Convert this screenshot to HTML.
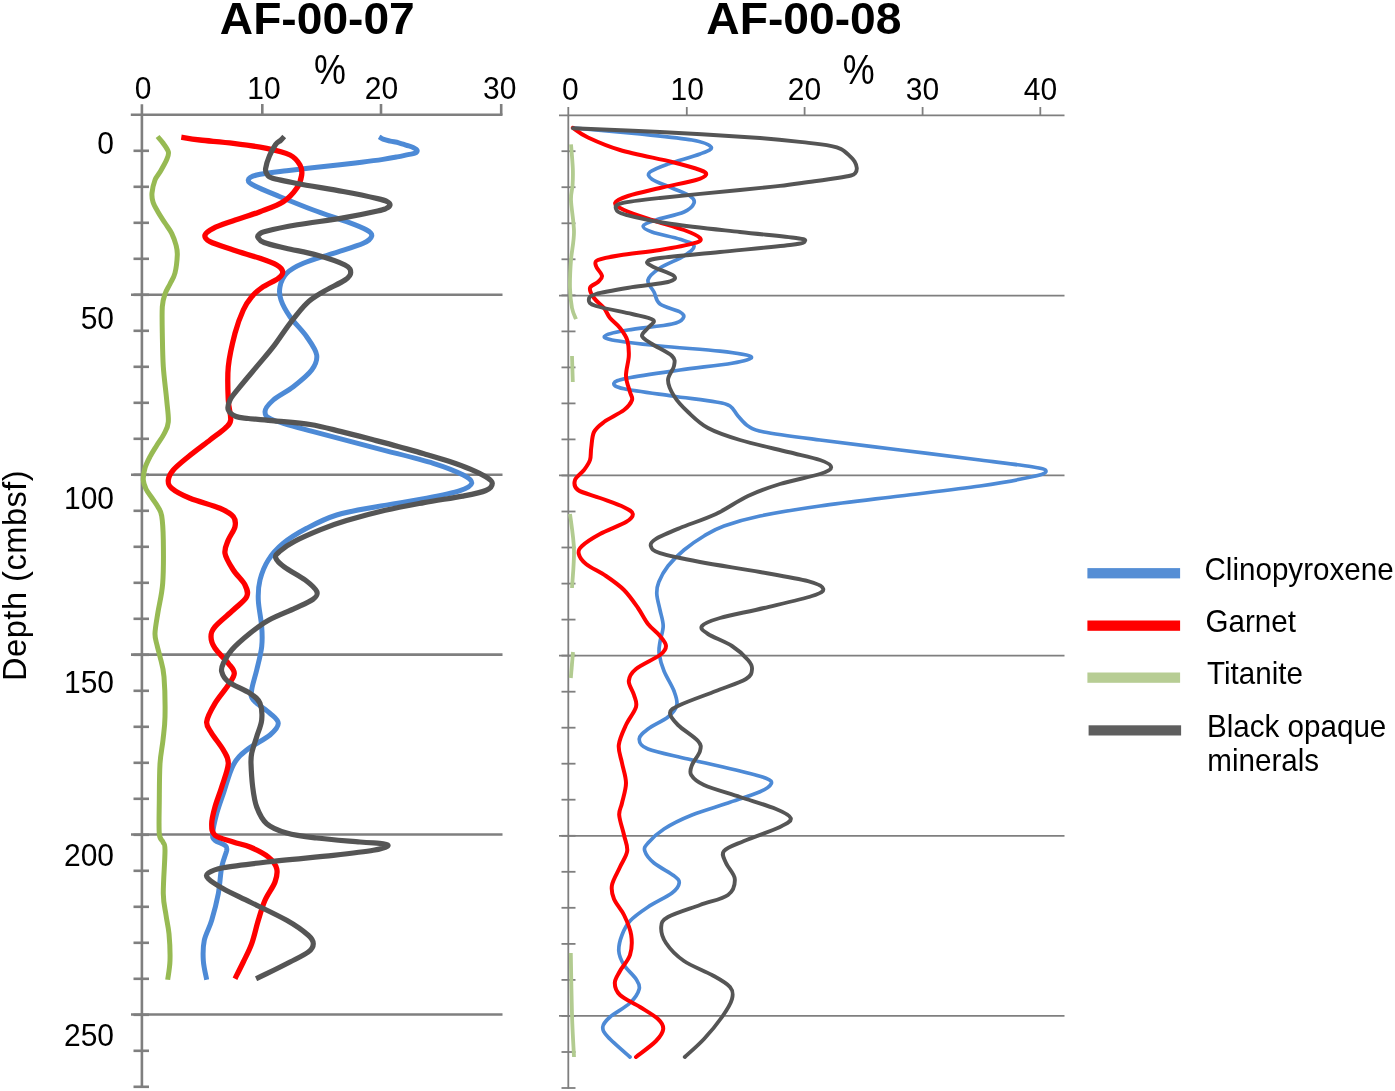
<!DOCTYPE html>
<html lang="en">
<head>
<meta charset="utf-8">
<title>AF-00-07 / AF-00-08 heavy minerals</title>
<style>
html,body{margin:0;padding:0;background:#fff;}
body{width:1395px;height:1091px;overflow:hidden;}
svg{display:block;filter:blur(0.5px);}
text{font-family:"Liberation Sans",Arial,sans-serif;fill:#000;}
.t{font-weight:bold;font-size:43.8px;}
.n{font-size:30px;}
.p{font-size:37px;}
.lg{font-size:29.6px;}
.d{font-size:32.5px;}
.c{fill:none;stroke-linejoin:round;}
</style>
</head>
<body>
<svg width="1395" height="1091" viewBox="0 0 1395 1091">
<rect width="1395" height="1091" fill="#fff"/>

<g stroke="#7f7f7f" stroke-width="2.6" fill="none">
<path d="M141.9 104.2V1088"/>
<path d="M130.8 114.8H502.5"/>
<path d="M262.3 104V114.8"/>
<path d="M381.0 104V114.8"/>
<path d="M501.2 104V114.8"/>
<path d="M131 294.8H502.5"/>
<path d="M131 474.8H502.5"/>
<path d="M131 654.6H502.5"/>
<path d="M131 834.5H502.5"/>
<path d="M131 1014.5H502.5"/>
<path d="M133.5 150.8H149"/>
<path d="M133.5 186.8H149"/>
<path d="M133.5 222.8H149"/>
<path d="M133.5 258.8H149"/>
<path d="M133.5 294.8H149"/>
<path d="M133.5 330.8H149"/>
<path d="M133.5 366.8H149"/>
<path d="M133.5 402.8H149"/>
<path d="M133.5 438.8H149"/>
<path d="M133.5 474.8H149"/>
<path d="M133.5 510.8H149"/>
<path d="M133.5 546.8H149"/>
<path d="M133.5 582.8H149"/>
<path d="M133.5 618.8H149"/>
<path d="M133.5 654.8H149"/>
<path d="M133.5 690.8H149"/>
<path d="M133.5 726.8H149"/>
<path d="M133.5 762.8H149"/>
<path d="M133.5 798.8H149"/>
<path d="M133.5 834.8H149"/>
<path d="M133.5 870.8H149"/>
<path d="M133.5 906.8H149"/>
<path d="M133.5 942.8H149"/>
<path d="M133.5 978.8H149"/>
<path d="M133.5 1014.8H149"/>
<path d="M133.5 1050.8H149"/>
<path d="M133.5 1086.8H149"/>
</g>
<g stroke="#7f7f7f" stroke-width="1.8" fill="none">
<path d="M568.3 107V1088.8"/>
<path d="M559 115.3H1064.5"/>
<path d="M686.8 107V115.3"/>
<path d="M804.6 107V115.3"/>
<path d="M922.6 107V115.3"/>
<path d="M1040.3 107V115.3"/>
<path d="M559 295.6H1064.5"/>
<path d="M559 475.4H1064.5"/>
<path d="M559 655.6H1064.5"/>
<path d="M559 835.8H1064.5"/>
<path d="M559 1015.8H1064.5"/>
<path d="M561.5 151.2H575.5"/>
<path d="M561.5 187.2H575.5"/>
<path d="M561.5 223.3H575.5"/>
<path d="M561.5 259.3H575.5"/>
<path d="M561.5 295.3H575.5"/>
<path d="M561.5 331.4H575.5"/>
<path d="M561.5 367.4H575.5"/>
<path d="M561.5 403.4H575.5"/>
<path d="M561.5 439.4H575.5"/>
<path d="M561.5 475.5H575.5"/>
<path d="M561.5 511.5H575.5"/>
<path d="M561.5 547.5H575.5"/>
<path d="M561.5 583.6H575.5"/>
<path d="M561.5 619.6H575.5"/>
<path d="M561.5 655.6H575.5"/>
<path d="M561.5 691.7H575.5"/>
<path d="M561.5 727.7H575.5"/>
<path d="M561.5 763.7H575.5"/>
<path d="M561.5 799.7H575.5"/>
<path d="M561.5 835.8H575.5"/>
<path d="M561.5 871.8H575.5"/>
<path d="M561.5 907.8H575.5"/>
<path d="M561.5 943.9H575.5"/>
<path d="M561.5 979.9H575.5"/>
<path d="M561.5 1015.9H575.5"/>
<path d="M561.5 1052.0H575.5"/>
<path d="M561.5 1088.0H575.5"/>
</g>
<path class="c" stroke="#97ba53" stroke-width="5.0" stroke-linecap="butt" d="M157.6 136.5C158.5 137.6 161.2 140.4 163.0 143.0C164.8 145.6 167.8 149.2 168.4 152.0C169.0 154.8 167.9 156.7 166.5 160.0C165.1 163.3 161.9 168.7 160.0 172.0C158.1 175.3 156.3 176.5 155.0 180.0C153.7 183.5 152.3 189.3 152.0 193.0C151.7 196.7 152.0 198.8 153.0 202.0C154.0 205.2 156.0 208.5 158.0 212.0C160.0 215.5 162.7 219.4 165.0 223.0C167.3 226.6 169.9 229.6 171.7 233.3C173.5 237.0 175.1 241.4 176.0 245.0C176.9 248.6 177.5 250.3 177.3 255.0C177.1 259.7 176.2 268.2 175.0 273.0C173.8 277.8 171.7 280.5 170.0 284.0C168.3 287.5 166.3 290.2 165.0 294.0C163.7 297.8 162.8 300.1 162.3 306.7C161.9 313.2 162.1 323.3 162.3 333.3C162.5 343.3 162.6 355.6 163.3 366.7C164.0 377.8 165.9 390.8 166.7 400.0C167.5 409.2 168.8 416.3 168.3 422.0C167.9 427.7 165.9 430.2 164.0 434.0C162.1 437.8 159.3 441.2 157.0 445.0C154.7 448.8 152.0 452.9 150.0 456.7C148.0 460.5 146.1 464.1 145.0 468.0C143.9 471.9 143.1 476.5 143.3 480.0C143.5 483.5 144.6 486.0 146.0 489.0C147.4 492.0 150.0 495.0 152.0 498.0C154.0 501.0 156.4 504.0 158.0 507.0C159.6 510.0 160.8 510.5 161.7 516.0C162.6 521.5 163.1 528.8 163.3 540.0C163.5 551.2 163.6 571.3 162.7 583.3C161.8 595.3 159.3 603.7 158.0 612.0C156.7 620.3 155.2 627.8 155.0 633.3C154.8 638.8 156.2 641.1 157.0 645.0C157.8 648.9 158.8 651.4 160.0 656.7C161.2 662.0 163.2 666.7 164.0 676.7C164.8 686.7 165.2 706.2 165.0 716.7C164.8 727.2 163.8 732.2 163.0 740.0C162.2 747.8 160.6 753.7 160.0 763.7C159.4 773.7 159.4 788.3 159.3 800.0C159.2 811.7 158.7 826.7 159.3 833.7C159.9 840.7 162.1 839.2 163.0 842.0C163.9 844.8 164.9 841.7 165.0 850.3C165.1 858.9 163.1 882.9 163.3 893.7C163.5 904.5 165.1 908.3 166.0 915.0C166.9 921.7 168.3 926.2 169.0 933.7C169.7 941.2 170.2 952.6 170.0 960.3C169.8 968.0 168.1 976.5 167.7 979.7"/>
<path class="c" stroke="#4d8ad6" stroke-width="5.0" stroke-linecap="butt" d="M379.1 136.8C379.8 137.2 381.1 138.5 383.0 139.2C384.9 139.9 387.6 140.5 390.2 141.1C392.8 141.7 396.2 142.1 398.8 142.8C401.4 143.5 403.5 144.3 405.9 145.1C408.3 145.9 411.2 146.5 413.1 147.4C415.0 148.3 416.9 149.3 417.1 150.3C417.4 151.3 416.1 152.6 414.6 153.3C413.1 154.0 411.0 154.0 408.1 154.6C405.2 155.2 401.5 156.1 397.3 156.9C393.1 157.7 389.0 158.5 383.0 159.4C377.0 160.3 368.7 161.4 361.5 162.3C354.3 163.2 352.5 163.4 340.0 164.8C327.5 166.2 300.6 169.0 286.7 170.7C272.8 172.4 263.1 173.4 256.7 175.0C250.3 176.6 248.6 178.2 248.3 180.0C248.0 181.8 249.7 183.2 255.0 186.0C260.3 188.8 270.3 192.7 280.0 196.7C289.7 200.7 302.2 205.8 313.3 210.0C324.4 214.2 337.8 218.4 346.7 221.7C355.6 225.0 362.5 227.6 366.7 230.0C370.9 232.4 372.3 233.8 371.7 236.0C371.1 238.2 369.7 240.4 363.3 243.3C356.9 246.2 343.3 250.0 333.3 253.3C323.3 256.6 311.1 260.0 303.3 263.3C295.5 266.6 290.6 269.4 286.7 273.3C282.8 277.2 280.9 282.2 280.0 286.7C279.1 291.1 279.3 295.0 281.0 300.0C282.7 305.0 285.7 310.6 290.0 316.7C294.3 322.8 302.2 330.3 306.7 336.7C311.1 343.1 315.9 349.4 316.7 355.0C317.5 360.6 315.6 364.7 311.7 370.0C307.8 375.3 299.7 381.7 293.3 386.7C286.9 391.7 278.0 395.8 273.3 400.0C268.6 404.2 265.0 408.4 265.0 411.7C265.0 415.0 265.2 416.7 273.3 420.0C281.4 423.3 296.1 427.0 313.3 431.7C330.5 436.4 356.7 443.0 376.7 448.3C396.7 453.6 418.9 458.9 433.3 463.3C447.7 467.8 456.9 471.7 463.3 475.0C469.7 478.3 472.2 480.7 471.7 483.3C471.1 485.9 467.5 488.2 460.0 490.7C452.5 493.2 440.6 495.6 426.7 498.3C412.8 501.0 391.7 503.9 376.7 506.7C361.7 509.5 348.4 511.4 336.7 515.0C325.0 518.6 315.6 523.6 306.7 528.3C297.8 533.0 289.7 538.0 283.3 543.3C276.9 548.6 272.2 553.9 268.3 560.0C264.4 566.1 261.7 573.3 260.0 580.0C258.3 586.7 258.0 592.2 258.3 600.0C258.6 607.8 261.1 618.9 261.7 626.7C262.3 634.5 262.5 639.5 261.7 646.7C260.9 653.9 258.4 662.8 256.7 670.0C255.0 677.2 252.3 685.0 251.7 690.0C251.1 695.0 250.2 696.1 253.3 700.0C256.4 703.9 265.8 709.4 270.0 713.3C274.2 717.2 278.3 719.7 278.3 723.3C278.3 726.9 275.3 730.5 270.0 735.0C264.7 739.5 252.8 745.0 246.7 750.0C240.6 755.0 237.2 757.7 233.3 765.0C229.4 772.3 226.1 785.6 223.3 793.7C220.5 801.8 218.5 807.0 216.7 813.7C214.9 820.4 213.0 829.3 212.7 833.7C212.4 838.1 212.9 838.4 215.0 840.3C217.1 842.2 223.1 843.6 225.0 845.3C226.9 847.0 227.2 846.7 226.7 850.3C226.1 853.9 223.1 859.8 221.7 867.0C220.3 874.2 220.0 884.8 218.3 893.7C216.6 902.6 214.0 912.5 211.7 920.3C209.4 928.1 205.7 933.6 204.3 940.3C202.9 947.0 202.9 953.7 203.3 960.3C203.7 966.9 206.1 976.5 206.7 979.7"/>
<path class="c" stroke="#ff0000" stroke-width="5.3" stroke-linecap="butt" d="M181.3 137.2C184.4 137.7 191.3 139.0 200.0 140.0C208.7 141.0 222.2 141.9 233.3 143.3C244.4 144.7 257.2 146.4 266.7 148.3C276.1 150.2 284.4 152.2 290.0 155.0C295.6 157.8 298.1 161.7 300.0 165.0C301.9 168.3 302.2 171.1 301.7 175.0C301.1 178.9 299.8 183.9 296.7 188.3C293.6 192.8 289.4 197.8 283.3 201.7C277.2 205.6 268.3 208.5 260.0 211.7C251.7 214.9 241.1 217.9 233.3 220.7C225.5 223.5 218.0 225.9 213.3 228.3C208.6 230.7 205.6 232.8 205.0 235.0C204.4 237.2 205.3 239.2 210.0 241.7C214.7 244.2 225.0 247.2 233.3 250.0C241.6 252.8 252.8 255.8 260.0 258.3C267.2 260.8 272.9 262.8 276.7 265.0C280.5 267.2 282.4 269.5 282.7 271.7C283.0 273.9 281.5 275.8 278.3 278.3C275.1 280.8 267.7 283.6 263.3 286.7C258.9 289.8 255.0 292.8 251.7 296.7C248.4 300.6 246.1 303.9 243.3 310.0C240.5 316.1 237.5 323.9 235.0 333.3C232.5 342.8 229.4 355.6 228.3 366.7C227.2 377.8 227.9 391.1 228.3 400.0C228.7 408.9 231.2 415.3 230.7 420.0C230.1 424.7 228.4 425.0 225.0 428.3C221.6 431.6 216.1 435.3 210.0 440.0C203.9 444.7 194.4 451.7 188.3 456.7C182.2 461.7 176.6 466.1 173.3 470.0C170.0 473.9 168.6 476.9 168.3 480.0C168.0 483.1 168.1 485.2 171.7 488.3C175.3 491.4 181.9 495.0 190.0 498.3C198.1 501.6 212.8 505.2 220.0 508.3C227.2 511.4 230.8 513.6 233.3 516.7C235.8 519.8 235.8 522.8 235.0 526.7C234.2 530.6 230.0 535.6 228.3 540.0C226.6 544.4 224.2 548.3 225.0 553.3C225.8 558.3 230.0 564.7 233.3 570.0C236.6 575.3 242.8 580.5 245.0 585.0C247.2 589.5 248.6 592.5 246.7 596.7C244.8 600.9 238.6 605.0 233.3 610.0C228.0 615.0 218.7 622.2 215.0 626.7C211.3 631.2 211.0 633.1 211.0 636.7C211.0 640.3 212.1 643.9 215.0 648.3C217.9 652.7 225.1 659.1 228.3 663.3C231.5 667.5 234.3 669.7 234.3 673.3C234.3 676.9 231.5 680.0 228.3 685.0C225.1 690.0 218.6 697.2 215.0 703.3C211.4 709.4 207.2 716.7 206.7 721.7C206.1 726.7 208.9 728.6 211.7 733.3C214.5 738.0 220.5 744.9 223.3 750.0C226.1 755.1 228.6 757.5 228.3 763.7C228.0 769.9 223.9 779.8 221.7 787.0C219.5 794.2 216.7 800.9 215.0 807.0C213.3 813.1 211.7 819.0 211.7 823.7C211.7 828.4 211.4 832.2 215.0 835.3C218.6 838.3 227.5 840.0 233.3 842.0C239.1 844.0 244.2 844.5 250.0 847.0C255.8 849.5 263.9 853.4 268.3 857.0C272.8 860.6 275.6 864.5 276.7 868.7C277.8 872.9 276.9 876.7 275.0 882.0C273.1 887.3 267.8 893.9 265.0 900.3C262.2 906.7 260.5 913.1 258.3 920.3C256.1 927.5 254.2 936.8 251.7 943.7C249.2 950.7 246.1 956.2 243.3 962.0C240.5 967.8 236.4 975.9 235.0 978.7"/>
<path class="c" stroke="#555555" stroke-width="5.2" stroke-linecap="butt" d="M284.2 136.5C283.6 137.2 281.9 139.2 280.5 140.5C279.1 141.8 277.5 141.9 275.6 144.5C273.8 147.1 271.1 152.0 269.4 156.0C267.7 160.0 266.0 165.6 265.6 168.6C265.2 171.6 265.9 172.4 267.0 174.0C268.1 175.6 266.9 176.4 272.0 178.0C277.1 179.6 285.4 181.2 297.3 183.5C309.2 185.8 329.8 189.0 343.2 191.5C356.6 194.0 370.3 196.9 377.6 198.6C384.9 200.3 384.9 200.4 387.0 201.5C389.1 202.6 390.2 203.8 390.0 205.0C389.8 206.2 388.1 207.5 386.0 208.5C383.9 209.5 384.7 209.4 377.6 211.0C370.5 212.6 356.6 215.6 343.2 217.9C329.8 220.2 310.2 222.6 297.3 224.8C284.4 227.0 272.4 229.6 266.0 231.2C259.6 232.8 260.3 233.4 259.0 234.5C257.7 235.6 257.2 236.2 258.0 237.5C258.8 238.8 259.4 240.7 264.0 242.5C268.6 244.3 277.1 246.1 285.9 248.2C294.7 250.3 306.8 252.2 316.7 255.0C326.6 257.8 339.3 262.1 345.0 265.0C350.7 267.9 350.7 270.2 350.7 272.7C350.7 275.2 349.6 276.8 345.0 280.0C340.4 283.2 329.7 287.8 323.3 291.7C316.9 295.6 312.2 298.0 306.7 303.3C301.1 308.6 295.6 316.1 290.0 323.3C284.4 330.5 278.9 339.5 273.3 346.7C267.8 353.9 262.2 360.0 256.7 366.7C251.1 373.4 244.4 381.1 240.0 386.7C235.6 392.2 231.9 396.1 230.0 400.0C228.1 403.9 227.3 407.2 228.3 410.0C229.3 412.8 232.7 415.1 236.0 416.5C239.3 417.9 242.0 417.8 248.4 418.5C254.8 419.2 263.9 419.8 274.2 420.8C284.5 421.8 299.1 422.7 310.3 424.5C321.5 426.3 331.0 429.1 341.3 431.6C351.6 434.1 362.8 437.1 372.3 439.6C381.8 442.1 389.5 444.1 398.1 446.5C406.7 448.9 415.3 451.2 423.9 453.7C432.5 456.2 442.0 458.9 449.7 461.5C457.4 464.1 464.3 466.6 470.3 469.2C476.3 471.8 482.1 474.5 485.8 476.8C489.5 479.1 492.3 480.9 492.3 483.2C492.3 485.5 490.8 488.4 485.8 490.5C480.9 492.6 472.9 494.1 462.6 496.1C452.3 498.1 436.8 500.2 423.9 502.6C411.0 505.0 398.1 507.3 385.2 510.3C372.3 513.3 357.3 517.4 346.5 520.6C335.7 523.8 329.2 526.2 320.6 529.7C312.0 533.2 301.7 537.6 294.8 541.3C287.9 544.9 282.6 548.8 279.4 551.6C276.2 554.4 274.9 555.5 275.8 558.1C276.7 560.7 279.6 563.5 284.5 567.1C289.4 570.8 299.8 575.9 305.2 580.0C310.6 584.1 315.5 588.4 316.8 591.6C318.1 594.8 316.6 596.6 312.9 599.4C309.2 602.2 302.1 605.0 294.8 608.4C287.5 611.8 276.5 615.9 269.0 620.0C261.5 624.1 256.2 628.3 250.0 633.3C243.8 638.3 236.1 645.0 231.7 650.0C227.2 655.0 225.0 659.7 223.3 663.3C221.6 666.9 220.9 668.6 221.7 671.7C222.5 674.8 223.6 678.1 228.3 681.7C233.0 685.3 244.7 689.7 250.0 693.3C255.3 696.9 258.1 698.8 260.0 703.3C261.9 707.8 262.2 714.4 261.7 720.0C261.1 725.6 258.4 731.2 256.7 736.7C255.0 742.2 252.6 748.8 251.7 753.3C250.8 757.8 250.8 758.1 251.0 763.7C251.2 769.3 251.8 779.8 252.7 787.0C253.6 794.2 254.4 800.9 256.7 807.0C259.0 813.1 261.7 819.4 266.7 823.7C271.7 828.0 278.4 830.6 286.7 833.0C295.0 835.4 304.5 836.5 316.7 838.0C328.9 839.5 348.9 841.0 360.0 842.0C371.1 843.0 378.8 843.0 383.3 843.7C387.9 844.4 389.0 845.2 387.3 846.3C385.6 847.4 382.3 848.8 373.3 850.3C364.3 851.8 351.1 853.3 333.3 855.3C315.5 857.2 285.0 859.9 266.7 862.0C248.4 864.1 233.0 865.9 223.3 867.7C213.6 869.5 210.8 871.2 208.3 873.0C205.8 874.8 205.8 876.1 208.3 878.7C210.8 881.3 216.4 884.8 223.3 888.7C230.2 892.6 239.4 896.7 250.0 902.0C260.6 907.3 277.0 914.8 286.7 920.3C296.4 925.8 303.9 931.4 308.3 935.3C312.7 939.2 313.3 940.9 313.3 943.7C313.3 946.5 312.2 949.0 308.3 952.0C304.4 955.0 296.9 958.4 290.0 962.0C283.1 965.6 272.4 970.9 266.7 973.7C261.0 976.5 257.8 977.9 256.0 978.7"/>
<path class="c" stroke="#b2cb90" stroke-width="3.8" stroke-linecap="butt" d="M571.0 144.3C571.3 148.2 572.5 161.2 572.8 168.0C573.1 174.8 572.9 179.7 572.6 185.0C572.3 190.3 570.8 192.2 571.0 200.0C571.2 207.8 574.0 222.0 574.0 232.0C574.0 242.0 571.7 250.7 571.0 260.0C570.3 269.3 569.8 280.0 570.0 288.0C570.2 296.0 571.0 302.8 572.0 308.0C573.0 313.2 575.3 317.3 576.0 319.2"/>
<path class="c" stroke="#b2cb90" stroke-width="3.8" stroke-linecap="butt" d="M572.0 356.0L572.8 382.0"/>
<path class="c" stroke="#b2cb90" stroke-width="3.8" stroke-linecap="butt" d="M570.0 514.0C570.7 520.0 573.7 537.7 574.0 550.0C574.3 562.3 572.3 581.7 572.0 588.0"/>
<path class="c" stroke="#b2cb90" stroke-width="3.8" stroke-linecap="butt" d="M573.0 652.0L570.8 678.0"/>
<path class="c" stroke="#b2cb90" stroke-width="3.8" stroke-linecap="butt" d="M570.8 953.0C571.0 963.3 571.5 997.7 572.0 1015.0C572.5 1032.3 573.7 1050.0 574.0 1057.0"/>
<path class="c" stroke="#4d8ad6" stroke-width="3.7" stroke-linecap="round" d="M574.0 128.0C585.0 129.0 620.3 132.0 640.0 134.0C659.7 136.0 680.1 137.8 692.0 140.0C703.9 142.2 709.9 144.9 711.2 147.2C712.5 149.5 707.2 151.2 700.0 154.0C692.8 156.8 676.3 161.0 668.0 164.0C659.7 167.0 652.7 169.5 650.0 172.0C647.3 174.5 648.3 176.5 652.0 179.2C655.7 181.9 665.7 185.2 672.0 188.0C678.3 190.8 686.3 193.5 690.0 196.0C693.7 198.5 695.0 200.5 694.0 203.2C693.0 205.9 690.3 209.2 684.0 212.0C677.7 214.8 662.8 217.7 656.0 220.0C649.2 222.3 643.9 224.0 643.2 226.0C642.5 228.0 645.9 229.8 652.0 232.0C658.1 234.2 673.0 236.9 680.0 239.2C687.0 241.5 693.3 243.2 694.0 246.0C694.7 248.8 689.7 252.3 684.0 256.0C678.3 259.7 666.0 264.0 660.0 268.0C654.0 272.0 649.0 276.0 648.0 280.0C647.0 284.0 652.0 288.0 654.0 292.0C656.0 296.0 655.7 300.7 660.0 304.0C664.3 307.3 676.1 309.7 680.0 312.0C683.9 314.3 684.5 316.0 683.2 318.0C681.9 320.0 681.2 322.0 672.0 324.0C662.8 326.0 639.0 328.1 628.0 330.0C617.0 331.9 608.7 333.5 606.0 335.2C603.3 336.9 603.0 338.2 612.0 340.0C621.0 341.8 642.0 344.1 660.0 346.0C678.0 347.9 704.8 349.4 720.0 351.2C735.2 353.0 749.2 354.8 751.2 356.8C753.2 358.8 743.9 361.0 732.0 363.2C720.1 365.4 697.3 367.5 680.0 370.0C662.7 372.5 639.0 375.8 628.0 378.0C617.0 380.2 614.7 381.4 614.0 383.2C613.3 385.0 614.3 386.7 624.0 388.8C633.7 390.9 656.7 393.8 672.0 396.0C687.3 398.2 706.3 400.3 716.0 402.0C725.7 403.7 726.3 403.7 730.0 406.0C733.7 408.3 735.0 412.7 738.0 416.0C741.0 419.3 743.7 423.3 748.0 426.0C752.3 428.7 752.0 429.7 764.0 432.0C776.0 434.3 797.3 437.0 820.0 440.0C842.7 443.0 873.3 446.7 900.0 450.0C926.7 453.3 958.0 457.2 980.0 460.0C1002.0 462.8 1021.0 464.9 1032.0 466.8C1043.0 468.7 1046.0 469.5 1046.0 471.2C1046.0 472.9 1043.0 474.3 1032.0 476.8C1021.0 479.3 1002.0 482.8 980.0 486.0C958.0 489.2 926.7 492.7 900.0 496.0C873.3 499.3 843.3 502.7 820.0 506.0C796.7 509.3 776.0 512.7 760.0 516.0C744.0 519.3 733.3 522.7 724.0 526.0C714.7 529.3 710.7 532.0 704.0 536.0C697.3 540.0 690.0 545.0 684.0 550.0C678.0 555.0 672.2 560.7 668.0 566.0C663.8 571.3 660.7 577.3 658.8 582.0C656.9 586.7 656.6 589.3 656.8 594.0C657.0 598.7 658.9 604.7 660.0 610.0C661.1 615.3 663.2 620.7 663.2 626.0C663.2 631.3 660.7 637.3 660.0 642.0C659.3 646.7 658.5 649.2 659.2 654.0C659.9 658.8 661.5 664.8 664.0 671.0C666.5 677.2 671.9 685.3 674.0 691.0C676.1 696.7 677.8 700.7 676.8 705.0C675.8 709.3 672.8 713.0 668.0 717.0C663.2 721.0 652.8 725.3 648.0 729.0C643.2 732.7 639.2 735.7 639.2 739.0C639.2 742.3 639.9 745.7 648.0 749.0C656.1 752.3 672.7 755.3 688.0 759.0C703.3 762.7 727.0 767.8 740.0 771.0C753.0 774.2 760.8 776.1 766.0 778.2C771.2 780.3 772.2 781.5 771.2 783.8C770.2 786.1 767.2 788.6 760.0 791.8C752.8 795.0 739.3 799.1 728.0 803.0C716.7 806.9 702.7 810.7 692.0 815.0C681.3 819.3 671.3 824.3 664.0 829.0C656.7 833.7 651.2 839.3 648.0 843.0C644.8 846.7 643.8 847.7 644.8 851.0C645.8 854.3 649.1 858.9 654.0 863.0C658.9 867.1 669.8 872.5 674.0 875.8C678.2 879.1 679.5 880.1 679.2 883.0C678.9 885.9 677.2 889.0 672.0 893.0C666.8 897.0 655.0 902.3 648.0 907.0C641.0 911.7 634.3 916.3 630.0 921.0C625.7 925.7 623.9 930.0 622.0 935.0C620.1 940.0 618.5 946.0 618.8 951.0C619.1 956.0 621.1 960.3 624.0 965.0C626.9 969.7 633.5 975.0 636.0 979.0C638.5 983.0 640.2 985.0 639.2 989.0C638.2 993.0 634.9 998.3 630.0 1003.0C625.1 1007.7 614.5 1013.0 610.0 1017.0C605.5 1021.0 603.1 1023.7 602.8 1027.0C602.5 1030.3 603.5 1032.0 608.0 1037.0C612.5 1042.0 626.3 1053.7 630.0 1057.0"/>
<path class="c" stroke="#ff0000" stroke-width="4.0" stroke-linecap="round" d="M572.8 127.8C575.3 129.4 580.1 133.8 588.0 137.5C595.9 141.2 606.0 145.9 620.0 150.0C634.0 154.1 658.7 158.7 672.0 162.0C685.3 165.3 694.3 167.9 700.0 170.0C705.7 172.1 706.7 173.1 706.0 174.8C705.3 176.5 703.7 177.8 696.0 180.0C688.3 182.2 671.3 185.3 660.0 188.0C648.7 190.7 635.5 193.5 628.0 196.0C620.5 198.5 615.9 200.5 615.2 202.8C614.5 205.1 617.9 207.1 624.0 210.0C630.1 212.9 642.0 216.7 652.0 220.0C662.0 223.3 676.0 227.0 684.0 230.0C692.0 233.0 698.3 235.8 700.0 238.0C701.7 240.2 700.7 241.2 694.0 243.2C687.3 245.2 672.3 248.0 660.0 250.0C647.7 252.0 630.3 253.5 620.0 255.2C609.7 256.9 602.0 258.2 598.0 260.0C594.0 261.8 595.3 263.3 596.0 266.0C596.7 268.7 601.7 273.3 602.0 276.0C602.3 278.7 600.0 280.0 598.0 282.0C596.0 284.0 590.7 285.3 590.0 288.0C589.3 290.7 591.7 294.7 594.0 298.0C596.3 301.3 601.3 304.7 604.0 308.0C606.7 311.3 607.3 314.7 610.0 318.0C612.7 321.3 617.1 324.3 620.0 328.0C622.9 331.7 625.7 335.3 627.2 340.0C628.7 344.7 629.0 350.0 628.8 356.0C628.6 362.0 625.8 370.0 626.0 376.0C626.2 382.0 629.0 388.0 630.0 392.0C631.0 396.0 633.0 397.0 632.0 400.0C631.0 403.0 628.7 406.3 624.0 410.0C619.3 413.7 609.0 418.3 604.0 422.0C599.0 425.7 596.1 427.7 594.0 432.0C591.9 436.3 591.9 443.3 591.2 448.0C590.5 452.7 591.2 456.3 590.0 460.0C588.8 463.7 586.5 466.7 584.0 470.0C581.5 473.3 576.0 476.7 575.0 480.0C574.0 483.3 573.8 487.0 578.0 490.0C582.2 493.0 592.3 495.1 600.0 498.0C607.7 500.9 618.5 504.5 624.0 507.2C629.5 509.9 632.5 511.5 632.8 514.0C633.1 516.5 631.5 518.7 626.0 522.0C620.5 525.3 607.3 530.0 600.0 534.0C592.7 538.0 585.5 542.7 582.0 546.0C578.5 549.3 578.1 551.0 578.8 554.0C579.5 557.0 581.5 560.3 586.0 564.0C590.5 567.7 599.7 571.7 606.0 576.0C612.3 580.3 618.7 584.7 624.0 590.0C629.3 595.3 634.0 602.3 638.0 608.0C642.0 613.7 644.3 619.3 648.0 624.0C651.7 628.7 657.0 632.3 660.0 636.0C663.0 639.7 666.0 642.8 666.0 646.0C666.0 649.2 665.0 651.2 660.0 655.0C655.0 658.8 641.2 664.7 636.0 669.0C630.8 673.3 629.1 676.7 628.8 681.0C628.5 685.3 632.8 690.7 634.0 695.0C635.2 699.3 637.3 702.0 636.0 707.0C634.7 712.0 628.9 718.7 626.0 725.0C623.1 731.3 619.5 738.7 618.8 745.0C618.1 751.3 620.8 756.7 622.0 763.0C623.2 769.3 626.0 776.3 626.0 783.0C626.0 789.7 623.1 797.7 622.0 803.0C620.9 808.3 618.9 809.7 619.2 815.0C619.5 820.3 622.7 829.0 624.0 835.0C625.3 841.0 627.9 845.7 627.2 851.0C626.5 856.3 622.5 861.3 620.0 867.0C617.5 872.7 613.0 879.7 612.0 885.0C611.0 890.3 612.0 894.0 614.0 899.0C616.0 904.0 621.1 909.0 624.0 915.0C626.9 921.0 630.2 928.3 631.2 935.0C632.2 941.7 631.9 949.0 630.0 955.0C628.1 961.0 622.5 966.3 620.0 971.0C617.5 975.7 614.8 979.0 614.8 983.0C614.8 987.0 615.8 991.0 620.0 995.0C624.2 999.0 633.7 1003.0 640.0 1007.0C646.3 1011.0 654.1 1015.3 658.0 1019.0C661.9 1022.7 663.5 1025.3 663.2 1029.0C662.9 1032.7 660.5 1036.3 656.0 1041.0C651.5 1045.7 639.3 1054.3 636.0 1057.0"/>
<path class="c" stroke="#555555" stroke-width="3.9" stroke-linecap="round" d="M573.0 128.2C587.5 128.8 628.8 130.4 660.0 132.0C691.2 133.6 735.2 136.2 760.0 138.0C784.8 139.8 796.8 141.6 808.7 142.9C820.6 144.2 826.2 145.1 831.6 146.1C837.0 147.1 838.0 147.5 840.9 149.0C843.8 150.5 846.5 153.0 848.8 155.1C851.1 157.2 853.3 159.3 854.6 161.5C855.9 163.7 856.7 166.1 856.8 168.0C856.9 169.9 856.3 171.8 855.3 173.0C854.3 174.2 854.0 174.7 851.0 175.5C848.0 176.3 844.3 176.9 837.3 178.0C830.2 179.1 818.2 180.7 808.7 182.0C799.2 183.3 791.5 184.6 780.0 185.9C768.5 187.2 760.0 188.0 740.0 190.0C720.0 192.0 679.7 195.8 660.0 198.0C640.3 200.2 629.3 201.4 622.0 203.2C614.7 205.0 615.3 206.9 616.0 208.8C616.7 210.7 616.7 212.3 626.0 214.8C635.3 217.3 653.0 221.1 672.0 224.0C691.0 226.9 719.3 229.7 740.0 232.0C760.7 234.3 785.2 236.5 796.0 238.0C806.8 239.5 805.5 240.1 804.8 241.2C804.1 242.3 806.1 243.0 792.0 244.8C777.9 246.6 742.0 249.8 720.0 252.0C698.0 254.2 672.1 256.3 660.0 258.0C647.9 259.7 648.2 260.5 647.2 262.0C646.2 263.5 649.5 264.9 654.0 267.2C658.5 269.5 671.7 273.5 674.0 276.0C676.3 278.5 675.0 280.1 668.0 282.0C661.0 283.9 644.0 285.2 632.0 287.2C620.0 289.2 603.2 291.9 596.0 294.0C588.8 296.1 588.8 298.0 588.8 300.0C588.8 302.0 588.8 303.7 596.0 306.0C603.2 308.3 622.5 311.7 632.0 314.0C641.5 316.3 650.5 317.7 653.2 320.0C655.9 322.3 649.9 325.3 648.0 328.0C646.1 330.7 641.3 333.3 642.0 336.0C642.7 338.7 647.0 340.7 652.0 344.0C657.0 347.3 668.3 352.3 672.0 356.0C675.7 359.7 674.7 362.0 674.0 366.0C673.3 370.0 668.0 375.0 668.0 380.0C668.0 385.0 670.7 390.7 674.0 396.0C677.3 401.3 682.3 406.7 688.0 412.0C693.7 417.3 699.3 423.3 708.0 428.0C716.7 432.7 726.7 436.0 740.0 440.0C753.3 444.0 774.7 448.7 788.0 452.0C801.3 455.3 812.8 457.5 820.0 460.0C827.2 462.5 831.2 464.9 831.2 467.2C831.2 469.5 828.5 471.2 820.0 474.0C811.5 476.8 792.0 480.3 780.0 484.0C768.0 487.7 758.7 491.0 748.0 496.0C737.3 501.0 727.3 508.7 716.0 514.0C704.7 519.3 690.0 523.9 680.0 528.0C670.0 532.1 660.9 535.8 656.0 538.8C651.1 541.8 650.1 543.6 650.8 546.0C651.5 548.4 651.8 550.5 660.0 553.2C668.2 555.9 683.3 558.9 700.0 562.0C716.7 565.1 742.0 568.8 760.0 572.0C778.0 575.2 797.5 578.4 808.0 581.2C818.5 584.0 822.5 586.3 823.2 588.8C823.9 591.3 821.9 592.8 812.0 596.0C802.1 599.2 779.3 604.3 764.0 608.0C748.7 611.7 730.3 615.0 720.0 618.0C709.7 621.0 704.0 623.3 702.0 626.0C700.0 628.7 703.0 630.7 708.0 634.0C713.0 637.3 725.3 641.7 732.0 646.0C738.7 650.3 744.7 656.2 748.0 660.0C751.3 663.8 752.3 665.8 752.0 669.0C751.7 672.2 752.0 675.3 746.0 679.0C740.0 682.7 727.0 686.7 716.0 691.0C705.0 695.3 687.7 701.3 680.0 705.0C672.3 708.7 670.3 709.7 670.0 713.0C669.7 716.3 673.3 720.3 678.0 725.0C682.7 729.7 694.3 736.7 698.0 741.0C701.7 745.3 701.0 747.0 700.0 751.0C699.0 755.0 693.5 761.0 692.0 765.0C690.5 769.0 689.2 771.7 691.2 775.0C693.2 778.3 695.9 781.3 704.0 785.0C712.1 788.7 728.0 793.0 740.0 797.0C752.0 801.0 767.5 805.5 776.0 809.0C784.5 812.5 790.1 815.2 790.8 818.2C791.5 821.2 787.8 823.2 780.0 827.0C772.2 830.8 753.3 837.0 744.0 841.0C734.7 845.0 727.0 847.3 724.0 851.0C721.0 854.7 724.2 858.3 726.0 863.0C727.8 867.7 734.5 873.7 734.8 879.0C735.1 884.3 733.8 890.7 728.0 895.0C722.2 899.3 710.0 901.3 700.0 905.0C690.0 908.7 674.5 913.3 668.0 917.0C661.5 920.7 661.5 922.7 661.2 927.0C660.9 931.3 662.2 937.3 666.0 943.0C669.8 948.7 676.3 955.7 684.0 961.0C691.7 966.3 704.3 970.7 712.0 975.0C719.7 979.3 726.7 983.0 730.0 987.0C733.3 991.0 733.3 994.0 732.0 999.0C730.7 1004.0 726.7 1010.3 722.0 1017.0C717.3 1023.7 710.2 1032.3 704.0 1039.0C697.8 1045.7 688.0 1054.0 684.8 1057.0"/>
<text class="t" x="219.8" y="33.8" textLength="195" lengthAdjust="spacingAndGlyphs">AF-00-07</text>
<text class="t" x="706.3" y="33.8" textLength="195.2" lengthAdjust="spacingAndGlyphs">AF-00-08</text>
<text class="p" transform="translate(330 84.3) scale(0.97 1.13)" text-anchor="middle">%</text>
<text class="p" transform="translate(858.7 84.3) scale(0.97 1.13)" text-anchor="middle">%</text>
<text class="n" transform="translate(143.2 98.7) scale(1 1.075)" text-anchor="middle">0</text>
<text class="n" transform="translate(264.0 98.7) scale(1 1.075)" text-anchor="middle">10</text>
<text class="n" transform="translate(381.5 98.7) scale(1 1.075)" text-anchor="middle">20</text>
<text class="n" transform="translate(499.8 98.7) scale(1 1.075)" text-anchor="middle">30</text>
<text class="n" transform="translate(570.3 100.3) scale(1 1.075)" text-anchor="middle">0</text>
<text class="n" transform="translate(687.3 100.3) scale(1 1.075)" text-anchor="middle">10</text>
<text class="n" transform="translate(804.5 100.3) scale(1 1.075)" text-anchor="middle">20</text>
<text class="n" transform="translate(922.5 100.3) scale(1 1.075)" text-anchor="middle">30</text>
<text class="n" transform="translate(1040.5 100.3) scale(1 1.075)" text-anchor="middle">40</text>
<text class="n" transform="translate(114 154.3) scale(1 1.075)" text-anchor="end">0</text>
<text class="n" transform="translate(114 329.2) scale(1 1.075)" text-anchor="end">50</text>
<text class="n" transform="translate(114 508.8) scale(1 1.075)" text-anchor="end">100</text>
<text class="n" transform="translate(114 692.9) scale(1 1.075)" text-anchor="end">150</text>
<text class="n" transform="translate(114 866.0) scale(1 1.075)" text-anchor="end">200</text>
<text class="n" transform="translate(114 1045.5) scale(1 1.075)" text-anchor="end">250</text>
<text class="d" transform="translate(26.2 680.9) rotate(-90) scale(1 1.02)" textLength="210.6" lengthAdjust="spacing">Depth (cmbsf)</text>
<rect x="1087.4" y="568.1" width="92.7" height="10.3" fill="#558ed5"/>
<rect x="1087.4" y="620.5" width="92.7" height="10.3" fill="#ff0000"/>
<rect x="1087.4" y="672.5" width="92.7" height="10.3" fill="#b7cd94"/>
<rect x="1088.6" y="725.3" width="92.5" height="10.2" fill="#5e5e5e"/>
<text class="lg" transform="translate(1204.5 579.6) scale(1 1.065)">Clinopyroxene</text>
<text class="lg" transform="translate(1205.5 632.3) scale(1 1.065)">Garnet</text>
<text class="lg" transform="translate(1207.0 684.2) scale(1 1.065)">Titanite</text>
<text class="lg" transform="translate(1207.0 736.5) scale(1 1.065)">Black opaque</text>
<text class="lg" transform="translate(1207.3 770.5) scale(1 1.065)">minerals</text>
</svg>
</body>
</html>
